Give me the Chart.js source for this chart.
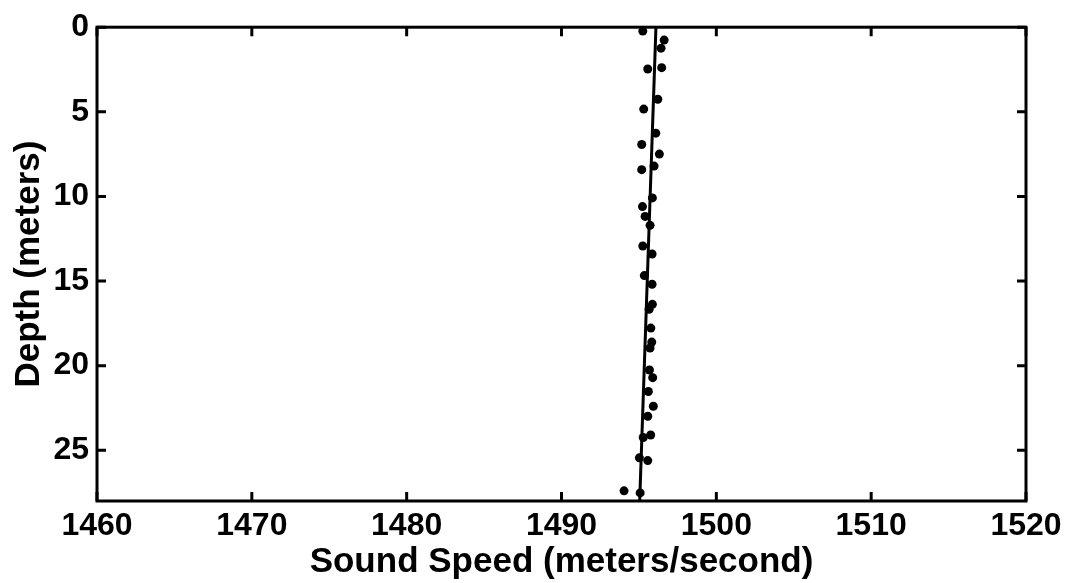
<!DOCTYPE html>
<html lang="en">
<head>
    <meta charset="UTF-8">
    <title>Sound Speed Profile</title>
    <script src="https://cdn.jsdelivr.net/npm/chart.js"></script>
    <style>
        html, body {
            margin: 0;
            padding: 0;
            background-color: #ffffff;
        }
        .chart-container {
            width: 1081px;
            height: 583px;
        }
    </style>
</head>
<body>
    <div class="chart-container">
        <canvas id="profile"></canvas>
    </div>

    <script>
        // measured sound speed at each depth
        const depthMeasured = [0.23, 0.76, 1.24, 2.47, 2.39, 4.26, 4.84, 6.26, 6.93, 7.50,
            8.42, 8.21, 10.09, 10.60, 11.18, 11.71, 12.93, 13.40, 14.68, 15.19,
            16.38, 16.67, 17.78, 18.61, 18.96, 20.26, 20.71, 21.53, 22.40, 22.99,
            24.10, 24.25, 25.45, 25.61, 27.40, 27.52];
        const speedMeasured = [1495.25, 1496.63, 1496.43, 1495.57, 1496.47, 1496.22, 1495.31, 1496.09, 1495.18, 1496.32,
            1495.18, 1495.98, 1495.87, 1495.23, 1495.40, 1495.72, 1495.25, 1495.85, 1495.35, 1495.85,
            1495.87, 1495.66, 1495.77, 1495.83, 1495.72, 1495.68, 1495.89, 1495.61, 1495.93, 1495.57,
            1495.76, 1495.28, 1495.03, 1495.57, 1494.04, 1495.08];

        // straight line fit through the profile
        const fitDepth = [0, 28];
        const fitSpeed = [1496.1, 1495.05];

        const speedTicks = [1460, 1470, 1480, 1490, 1500, 1510, 1520];
        const depthTicks = [0, 5, 10, 15, 20, 25];

        const tickFont = { family: "Arial, 'Liberation Sans', sans-serif", size: 32, weight: 'bold' };
        const titleFont = { family: "Arial, 'Liberation Sans', sans-serif", size: 35, weight: 'bold' };

        // closed box with inward tick marks on all four sides
        const boxPlugin = {
            id: 'box',
            afterDraw(chart) {
                const { ctx, chartArea: a, scales } = chart;
                const len = 9;
                ctx.save();
                ctx.strokeStyle = '#000';
                ctx.lineWidth = 3;
                ctx.strokeRect(a.left, a.top, a.right - a.left, a.bottom - a.top);
                ctx.beginPath();
                speedTicks.forEach(v => {
                    const x = scales.x.getPixelForValue(v);
                    ctx.moveTo(x, a.bottom); ctx.lineTo(x, a.bottom - len);
                    ctx.moveTo(x, a.top); ctx.lineTo(x, a.top + len);
                });
                depthTicks.forEach(v => {
                    const y = scales.y.getPixelForValue(v);
                    ctx.moveTo(a.left, y); ctx.lineTo(a.left + len, y);
                    ctx.moveTo(a.right, y); ctx.lineTo(a.right - len, y);
                });
                ctx.stroke();
                ctx.restore();
            }
        };

        new Chart(document.getElementById('profile').getContext('2d'), {
            type: 'scatter',
            data: {
                datasets: [
                    {
                        label: 'Measured',
                        data: speedMeasured.map((s, i) => ({ x: s, y: depthMeasured[i] })),
                        backgroundColor: '#000',
                        borderColor: '#000',
                        pointRadius: 4.5,
                        pointBorderWidth: 0
                    },
                    {
                        label: 'Fit',
                        type: 'line',
                        data: fitSpeed.map((s, i) => ({ x: s, y: fitDepth[i] })),
                        borderColor: '#000',
                        borderWidth: 3,
                        pointRadius: 0,
                        fill: false
                    }
                ]
            },
            options: {
                responsive: true,
                maintainAspectRatio: false,
                animation: false,
                layout: {
                    padding: { left: 0, top: 21, right: 55, bottom: 0 }
                },
                plugins: {
                    legend: { display: false },
                    tooltip: { enabled: false }
                },
                scales: {
                    x: {
                        type: 'linear',
                        min: 1460,
                        max: 1520,
                        grid: { display: false, drawTicks: false },
                        border: { display: false },
                        afterFit(scale) { scale.height = 82; },
                        ticks: {
                            stepSize: 10,
                            includeBounds: false,
                            padding: 6,
                            color: '#000',
                            font: tickFont,
                            callback: v => String(v)
                        },
                        title: {
                            display: true,
                            text: 'Sound Speed (meters/second)',
                            color: '#000',
                            font: titleFont,
                            padding: 0
                        }
                    },
                    y: {
                        type: 'linear',
                        reverse: true,
                        min: 0,
                        max: 28,
                        grid: { display: false, drawTicks: false },
                        border: { display: false },
                        afterFit(scale) { scale.width = 97; },
                        ticks: {
                            stepSize: 5,
                            includeBounds: false,
                            padding: 8,
                            color: '#000',
                            font: tickFont,
                            callback: v => String(v)
                        },
                        title: {
                            display: true,
                            text: 'Depth (meters)',
                            color: '#000',
                            font: titleFont,
                            padding: { top: 8, bottom: 0 }
                        }
                    }
                }
            },
            plugins: [boxPlugin]
        });
    </script>
</body>
</html>
